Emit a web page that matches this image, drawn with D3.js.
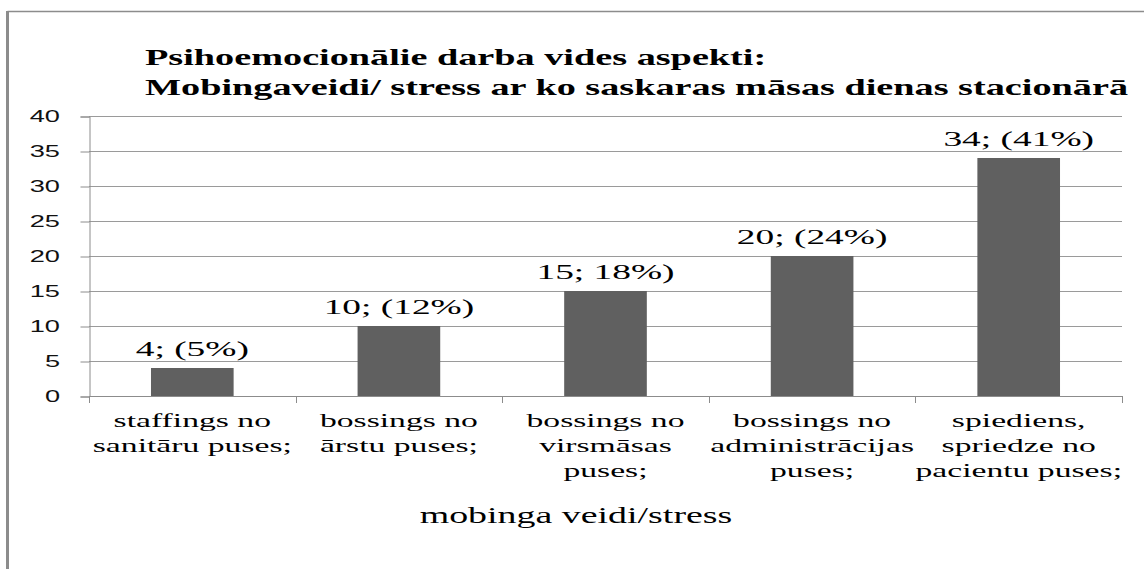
<!DOCTYPE html>
<html>
<head>
<meta charset="utf-8">
<script src="https://cdn.jsdelivr.net/npm/d3@7"></script>
<style>
    body { margin: 0; background: #fff; }
    svg { display: block; }
</style>
</head>
<body>
<div id="chart"></div>
<script>
// chart data
var categories = [
    ["staffings no", "sanitāru puses;"],
    ["bossings no", "ārstu puses;"],
    ["bossings no", "virsmāsas", "puses;"],
    ["bossings no", "administrācijas", "puses;"],
    ["spiediens,", "spriedze no", "pacientu puses;"]
];
var values = [4, 10, 15, 20, 34];
var valueLabels = ["4; (5%)", "10; (12%)", "15; 18%)", "20; (24%)", "34; (41%)"];
var yTicks = [0, 5, 10, 15, 20, 25, 30, 35, 40];
var titleLines = ["Psihoemocionālie darba vides aspekti:", "Mobingaveidi/ stress ar ko saskaras māsas dienas stacionārā"];
var xTitle = "mobinga veidi/stress";

document.addEventListener('DOMContentLoaded', function () {
    var w = 1144;
    var h = 569;
    var left = 89, right = 1122, top = 116, bottom = 396;
    var SX = 1.7; // the original picture is stretched sideways

    var svg = d3.select("#chart").append("svg")
        .attr("width", w)
        .attr("height", h);

    // outer frame (only left and top edges visible)
    svg.append("line").attr("x1", 7.5).attr("x2", w).attr("y1", 11.5).attr("y2", 11.5)
        .attr("stroke", "#8c8c8c").attr("stroke-width", 1.5);
    svg.append("rect").attr("x", 6).attr("y", 11).attr("width", 3).attr("height", h - 11)
        .attr("fill", "#8c8c8c");

    var xScale = d3.scaleBand()
        .domain(d3.range(categories.length))
        .range([left, right])
        .paddingInner(0.6)
        .paddingOuter(0.3);

    var yScale = d3.scaleLinear()
        .domain([0, 40])
        .range([bottom, top]);

    // helper for stretched text
    function stext(x, y, str, opts) {
        opts = opts || {};
        var g = svg.append("g").attr("transform", "translate(" + x + "," + y + ") scale(" + SX + ",1)");
        return g.append("text")
            .attr("text-anchor", opts.anchor || "middle")
            .attr("font-family", opts.family || "'Liberation Serif', 'Times New Roman', serif")
            .attr("font-size", opts.size || 21)
            .attr("font-weight", opts.weight || "normal")
            .attr("fill", opts.fill || "#000")
            .text(str);
    }

    // gridlines
    svg.selectAll("line.grid")
        .data(yTicks.filter(d => d > 0))
        .enter()
        .append("line")
        .attr("class", "grid")
        .attr("x1", left)
        .attr("x2", right)
        .attr("y1", d => Math.round(yScale(d)) + 0.5)
        .attr("y2", d => Math.round(yScale(d)) + 0.5)
        .attr("stroke", "#9a9a9a");

    // y axis
    var yAxis = d3.axisLeft(yScale).tickValues(yTicks).tickSize(9).tickFormat(() => "");
    var yg = svg.append("g")
        .attr("transform", "translate(" + (left + 0.5) + ",0.5)")
        .call(yAxis);
    yg.selectAll("path, line").attr("stroke", "#8c8c8c");

    yTicks.forEach(function (t) {
        stext(60, yScale(t) + 6, t, {anchor: "end", family: "'Liberation Sans', Arial, sans-serif", size: 16, fill: "#111"});
    });

    // x axis line and boundary ticks
    svg.append("line")
        .attr("x1", left).attr("x2", right + 0.5)
        .attr("y1", bottom + 0.5).attr("y2", bottom + 0.5)
        .attr("stroke", "#8c8c8c");
    var bounds = categories.map((c, i) => xScale(i) - xScale.step() * 0.3).concat([right]);
    svg.selectAll("line.xtick")
        .data(bounds)
        .enter()
        .append("line")
        .attr("class", "xtick")
        .attr("x1", d => Math.round(d) + 0.5)
        .attr("x2", d => Math.round(d) + 0.5)
        .attr("y1", bottom)
        .attr("y2", bottom + 7)
        .attr("stroke", "#8c8c8c");

    // bars
    svg.selectAll("rect.bar")
        .data(values)
        .enter()
        .append("rect")
        .attr("class", "bar")
        .attr("x", (d, i) => xScale(i))
        .attr("y", d => yScale(d))
        .attr("width", xScale.bandwidth())
        .attr("height", d => bottom - yScale(d))
        .attr("fill", "#606060");

    // value labels
    values.forEach(function (v, i) {
        stext(xScale(i) + xScale.bandwidth() / 2, yScale(v) - 12, valueLabels[i], {size: 22});
    });

    // category labels
    categories.forEach(function (lines, i) {
        lines.forEach(function (line, j) {
            stext(xScale(i) + xScale.bandwidth() / 2, 427 + j * 25, line, {size: 19.8});
        });
    });

    // axis title
    stext(576, 523, xTitle, {size: 22.3});

    // chart title
    titleLines.forEach(function (line, j) {
        stext(145, 65 + j * 30, line, {anchor: "start", size: 22.5, weight: "bold"});
    });
});
</script>
</body>
</html>
